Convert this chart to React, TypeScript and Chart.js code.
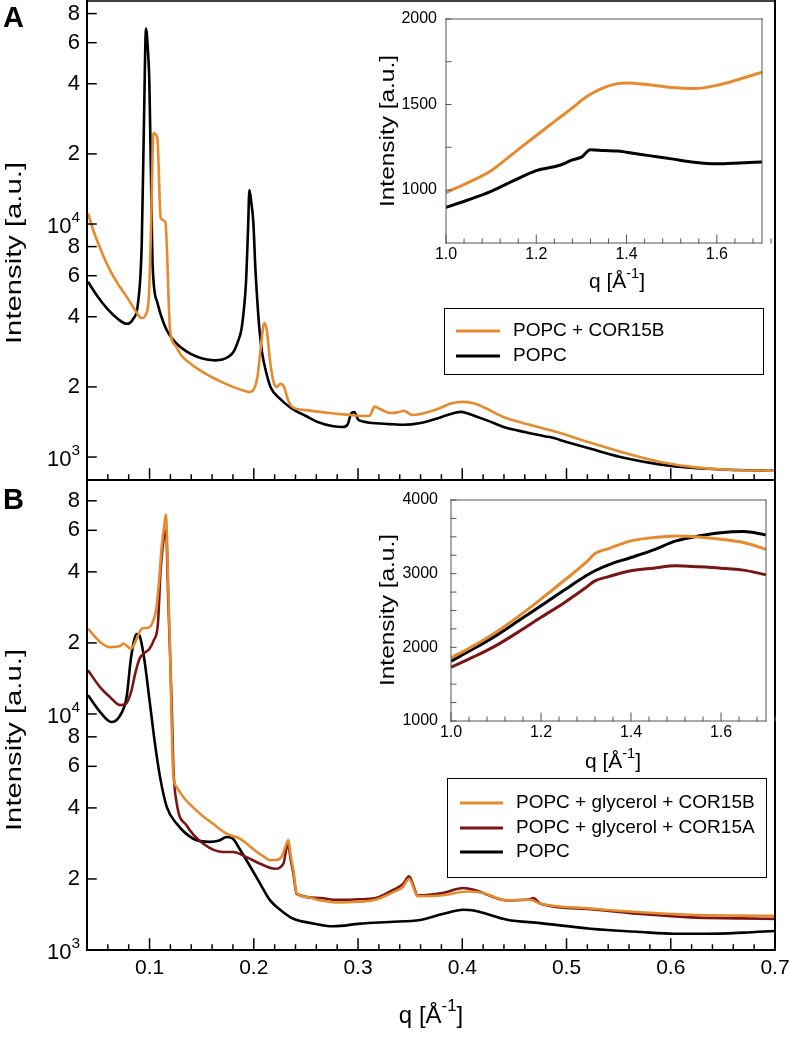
import React, { useEffect, useRef } from 'react';
import { Chart, registerables } from 'chart.js';

Chart.register(...registerables);

const W = 789;
const H = 1038;
const FONT = "'Liberation Sans', Arial, Helvetica, sans-serif";
const ORANGE = '#E68A2E';
const MAROON = '#7A1515';
const BLACK = '#000000';

// ---------- Panel A (main, log scale) ----------
const qA_cor15b = [0.041, 0.046, 0.054, 0.062, 0.07, 0.078, 0.085, 0.0925, 0.097, 0.0995, 0.1015, 0.1037, 0.1075, 0.1107, 0.1152, 0.1197, 0.125, 0.13, 0.14, 0.15, 0.16, 0.17, 0.18, 0.19, 0.196, 0.2, 0.2035, 0.2065, 0.21, 0.2125, 0.2155, 0.219, 0.222, 0.2255, 0.229, 0.233, 0.237, 0.25, 0.27, 0.29, 0.305, 0.311, 0.316, 0.322, 0.331, 0.338, 0.344, 0.352, 0.36, 0.375, 0.39, 0.4, 0.41, 0.42, 0.439, 0.458, 0.484, 0.524, 0.556, 0.589, 0.622, 0.655, 0.7];
const iA_cor15b = [11100, 9400, 7600, 6340, 5500, 4880, 4350, 3950, 4150, 5000, 10000, 24500, 23400, 10600, 10200, 3500, 3000, 2750, 2500, 2330, 2200, 2090, 2000, 1930, 1900, 1950, 2200, 2900, 3760, 3500, 2600, 2100, 2000, 2060, 2000, 1750, 1640, 1590, 1550, 1520, 1500, 1505, 1645, 1600, 1545, 1555, 1580, 1515, 1530, 1600, 1700, 1725, 1705, 1640, 1490, 1400, 1305, 1150, 1040, 955, 905, 882, 873];

const qA_popc = [0.041, 0.05, 0.06, 0.07, 0.078, 0.084, 0.089, 0.0925, 0.0945, 0.0966, 0.0985, 0.0998, 0.1015, 0.103, 0.1075, 0.1165, 0.125, 0.135, 0.145, 0.155, 0.163, 0.17, 0.176, 0.181, 0.185, 0.188, 0.1905, 0.1925, 0.1945, 0.1958, 0.1975, 0.1996, 0.2015, 0.2035, 0.2055, 0.208, 0.212, 0.216, 0.225, 0.236, 0.25, 0.262, 0.275, 0.285, 0.29, 0.2935, 0.2965, 0.3, 0.305, 0.311, 0.33, 0.344, 0.36, 0.375, 0.385, 0.393, 0.399, 0.405, 0.412, 0.425, 0.439, 0.46, 0.48, 0.485, 0.5, 0.524, 0.556, 0.589, 0.622, 0.655, 0.7];
const iA_popc = [5650, 4900, 4300, 3900, 3730, 3900, 4600, 8200, 25000, 69000, 55000, 41000, 15000, 6600, 4600, 3500, 3100, 2850, 2700, 2620, 2600, 2620, 2700, 2850, 3150, 3500, 4300, 5600, 9500, 14000, 12500, 10100, 6500, 4600, 3500, 2800, 2300, 2000, 1780, 1620, 1500, 1410, 1360, 1345, 1380, 1540, 1560, 1450, 1420, 1404, 1385, 1375, 1400, 1460, 1510, 1549, 1563, 1540, 1500, 1430, 1350, 1280, 1225, 1215, 1160, 1082, 990, 930, 897, 882, 873];

// ---------- Panel B (main, log scale) ----------
const qB_cor15b = [0.041, 0.0525, 0.062, 0.0717, 0.0748, 0.079, 0.082, 0.087, 0.0925, 0.0988, 0.103, 0.1065, 0.109, 0.1115, 0.1145, 0.1158, 0.117, 0.1185, 0.1197, 0.121, 0.1228, 0.126, 0.1325, 0.1485, 0.16, 0.174, 0.187, 0.195, 0.203, 0.21, 0.2157, 0.2225, 0.227, 0.2305, 0.2332, 0.2355, 0.238, 0.241, 0.25, 0.2636, 0.279, 0.3, 0.317, 0.334, 0.343, 0.349, 0.353, 0.357, 0.381, 0.4044, 0.42, 0.443, 0.465, 0.475, 0.523, 0.571, 0.619, 0.667, 0.7];
const iB_cor15b = [22970, 20200, 19200, 19400, 19860, 19300, 18900, 20500, 22970, 23200, 24500, 28000, 36000, 50000, 65000, 70000, 50000, 28000, 19000, 10000, 5500, 4900, 4440, 3780, 3450, 3110, 2960, 2780, 2600, 2480, 2400, 2410, 2500, 2750, 2920, 2500, 2177, 1750, 1680, 1623, 1590, 1600, 1633, 1760, 1850, 2005, 1850, 1690, 1705, 1770, 1745, 1623, 1633, 1571, 1500, 1445, 1410, 1398, 1395];

const qB_cor15a = [0.041, 0.0525, 0.062, 0.0717, 0.077, 0.0823, 0.0865, 0.0903, 0.095, 0.1, 0.104, 0.108, 0.1105, 0.1135, 0.1158, 0.118, 0.1214, 0.1228, 0.126, 0.1356, 0.1516, 0.1708, 0.18, 0.193, 0.206, 0.2204, 0.2284, 0.2326, 0.2355, 0.238, 0.241, 0.2636, 0.279, 0.3, 0.317, 0.334, 0.343, 0.349, 0.353, 0.357, 0.381, 0.401, 0.411, 0.443, 0.465, 0.468, 0.475, 0.523, 0.571, 0.619, 0.667, 0.7];
const iB_cor15a = [15300, 13000, 11800, 10900, 11000, 12400, 15000, 17100, 18100, 18900, 20500, 24000, 40000, 55000, 60000, 30000, 10400, 6000, 4200, 3370, 2820, 2600, 2600, 2475, 2320, 2210, 2320, 2820, 2400, 2105, 1731, 1660, 1630, 1640, 1660, 1800, 1900, 2050, 1880, 1700, 1742, 1830, 1800, 1623, 1640, 1660, 1571, 1490, 1420, 1375, 1362, 1355];

const qB_popc = [0.041, 0.0525, 0.0633, 0.0717, 0.078, 0.0823, 0.0877, 0.0903, 0.095, 0.1, 0.105, 0.1101, 0.1165, 0.126, 0.142, 0.158, 0.166, 0.174, 0.18, 0.186, 0.193, 0.205, 0.2157, 0.227, 0.238, 0.255, 0.2764, 0.302, 0.33, 0.3596, 0.382, 0.401, 0.411, 0.443, 0.475, 0.523, 0.571, 0.603, 0.635, 0.67, 0.7];
const iB_popc = [12000, 10200, 9250, 9850, 11800, 17400, 21800, 21500, 17000, 11400, 7600, 5400, 4040, 3430, 2960, 2870, 2900, 3010, 2960, 2700, 2400, 1950, 1623, 1460, 1357, 1300, 1260, 1293, 1315, 1340, 1425, 1480, 1470, 1344, 1300, 1231, 1192, 1172, 1172, 1185, 1204];

// ---------- Inset A (linear) ----------
const qInA = [1.0, 1.05, 1.1, 1.15, 1.2, 1.25, 1.28, 1.3, 1.32, 1.35, 1.38, 1.4, 1.45, 1.5, 1.55, 1.6, 1.65, 1.7];
const inA_cor15b = [985, 1045, 1113, 1216, 1319, 1420, 1480, 1524, 1560, 1599, 1622, 1626, 1615, 1599, 1593, 1612, 1648, 1689];
const inA_popc = [898, 943, 992, 1055, 1113, 1143, 1176, 1192, 1235, 1231, 1228, 1221, 1201, 1182, 1162, 1153, 1158, 1164];

// ---------- Inset B (linear) ----------
const qInB = [1.0, 1.05, 1.1, 1.15, 1.2, 1.25, 1.3, 1.32, 1.35, 1.4, 1.45, 1.5, 1.55, 1.6, 1.65, 1.7];
const inB_cor15b = [1857, 2020, 2204, 2420, 2655, 2900, 3152, 3273, 3340, 3445, 3490, 3512, 3499, 3467, 3422, 3332];
const inB_cor15a = [1731, 1870, 2024, 2210, 2407, 2600, 2813, 2903, 2960, 3039, 3075, 3106, 3093, 3075, 3048, 2985];
const inB_popc = [1812, 1980, 2159, 2360, 2565, 2770, 2971, 3040, 3120, 3219, 3323, 3445, 3512, 3557, 3571, 3526];

// ---------- Ticks ----------
const mainXTicks = [0.1, 0.2, 0.3, 0.4, 0.5, 0.6, 0.7];
const mainXTickLabels = ['0.1', '0.2', '0.3', '0.4', '0.5', '0.6', '0.7'];
const mainYTicks = [1000, 2000, 4000, 6000, 8000, 10000, 20000, 40000, 60000, 80000];
const mainYTickLabels = ['10^{3}', '2', '4', '6', '8', '10^{4}', '2', '4', '6', '8'];
const insetXTicks = [1.0, 1.2, 1.4, 1.6];
const insetXTickLabels = ['1.0', '1.2', '1.4', '1.6'];
const insetAYTicks = [1000, 1500, 2000];
const insetAYTickLabels = ['1000', '1500', '2000'];
const insetBYTicks = [1000, 2000, 3000, 4000];
const insetBYTickLabels = ['1000', '2000', '3000', '4000'];

const labelsA = ['POPC + COR15B', 'POPC'];
const labelsB = ['POPC + glycerol + COR15B', 'POPC + glycerol + COR15A', 'POPC'];

const zip = (xs: number[], ys: number[]) => xs.map((x, i) => ({ x, y: ys[i] }));

function steps(from: number, to: number, step: number, skip: number[]) {
  const out: number[] = [];
  const n = Math.round((to - from) / step);
  for (let i = 0; i <= n; i++) {
    const v = Math.round((from + i * step) * 10000) / 10000;
    if (!skip.some((s) => Math.abs(s - v) < 1e-6)) out.push(v);
  }
  return out;
}

function parseRich(s: string) {
  const parts: { t: string; sup: boolean }[] = [];
  const re = /\^\{([^}]*)\}/g;
  let last = 0;
  let m: RegExpExecArray | null;
  while ((m = re.exec(s))) {
    if (m.index > last) parts.push({ t: s.slice(last, m.index), sup: false });
    parts.push({ t: m[1], sup: true });
    last = m.index + m[0].length;
  }
  if (last < s.length) parts.push({ t: s.slice(last), sup: false });
  return parts;
}

function drawRich(ctx: CanvasRenderingContext2D, s: string, x: number, y: number, size: number, align: 'left' | 'center' | 'right', opt: any = {}) {
  const { bold = false, rotate = false, length } = opt;
  const parts = parseRich(s);
  const supSize = size * 0.7;
  const font = (sup: boolean) => `${bold ? 'bold ' : ''}${sup ? supSize : size}px ${FONT}`;
  let total = 0;
  const ws = parts.map((p) => {
    ctx.font = font(p.sup);
    const w = ctx.measureText(p.t).width;
    total += w;
    return w;
  });
  ctx.save();
  ctx.translate(x, y);
  if (rotate) ctx.rotate(-Math.PI / 2);
  if (length) ctx.scale(length / total, 1);
  let cx = align === 'left' ? 0 : align === 'center' ? -total / 2 : -total;
  ctx.fillStyle = '#000';
  ctx.textBaseline = 'middle';
  ctx.textAlign = 'left';
  parts.forEach((p, i) => {
    ctx.font = font(p.sup);
    ctx.fillText(p.t, cx, p.sup ? -size * 0.4 : 0);
    cx += ws[i];
  });
  ctx.restore();
}

function makeDeco(spec: any) {
  return {
    id: 'deco',
    afterDatasetsDraw(chart: any) {
      const { ctx, chartArea: a } = chart;
      const xs = chart.scales.x;
      const ys = chart.scales.y;
      ctx.save();
      const line = (x1: number, y1: number, x2: number, y2: number, w: number, color: string) => {
        ctx.strokeStyle = color;
        ctx.lineWidth = w;
        ctx.lineCap = 'square';
        ctx.beginPath();
        ctx.moveTo(x1, y1);
        ctx.lineTo(x2, y2);
        ctx.stroke();
      };
      const f = spec.frame;
      if (f.left) line(a.left, a.top, a.left, a.bottom, f.left, f.color);
      if (f.right) line(a.right, a.top, a.right, a.bottom, f.right, f.color);
      if (f.top) line(a.left, a.top, a.right, a.top, f.top, f.color);
      if (f.bottom) line(a.left, a.bottom, a.right, a.bottom, f.bottom, f.color);

      const xt = spec.xTicks;
      if (xt) {
        ctx.lineCap = 'butt';
        xt.minor.forEach((v: number) => {
          const px = xs.getPixelForValue(v);
          line(px, a.bottom, px, a.bottom - xt.minorLen, xt.width, f.color);
        });
        xt.values.forEach((v: number, i: number) => {
          const px = xs.getPixelForValue(v);
          line(px, a.bottom, px, a.bottom - xt.majorLen, xt.width, f.color);
          if (xt.labels) drawRich(ctx, xt.labels[i], px, xt.labelY, xt.font, 'center');
        });
      }
      const yt = spec.yTicks;
      if (yt) {
        (yt.minor || []).forEach((v: number) => {
          const py = ys.getPixelForValue(v);
          line(a.left, py, a.left + yt.minorLen, py, yt.width, f.color);
        });
        yt.values.forEach((v: number, i: number) => {
          const py = ys.getPixelForValue(v);
          line(a.left, py, a.left + yt.len, py, yt.width, f.color);
          const lab = yt.labels[i];
          drawRich(ctx, lab, yt.labelX, py + (lab.indexOf('^') >= 0 ? 3 : 0), yt.font, 'right');
        });
      }
      (spec.texts || []).forEach((t: any) => drawRich(ctx, t.s, t.x, t.y, t.size, t.align, t));

      const lg = spec.legend;
      if (lg) {
        const [x1, y1, x2, y2] = lg.box;
        ctx.fillStyle = '#fff';
        ctx.fillRect(x1, y1, x2 - x1, y2 - y1);
        ctx.strokeStyle = '#000';
        ctx.lineWidth = 1;
        ctx.strokeRect(x1 + 0.5, y1 + 0.5, x2 - x1, y2 - y1);
        chart.data.datasets.forEach((ds: any, i: number) => {
          const yy = lg.rows[i];
          ctx.strokeStyle = ds.borderColor;
          ctx.lineWidth = 3;
          ctx.lineCap = 'butt';
          ctx.beginPath();
          ctx.moveTo(lg.sample[0], yy);
          ctx.lineTo(lg.sample[1], yy);
          ctx.stroke();
          drawRich(ctx, ds.label, lg.textX, yy, lg.size, 'left');
        });
      }
      ctx.restore();
    },
  };
}

function lineDs(label: string, data: any[], color: string, width: number) {
  return {
    label,
    data,
    borderColor: color,
    backgroundColor: color,
    borderWidth: width,
    pointRadius: 0,
    fill: false,
    cubicInterpolationMode: 'monotone',
    borderJoinStyle: 'round',
  };
}

function baseOptions(area: { l: number; t: number; r: number; b: number }, x: any, y: any) {
  return {
    animation: false,
    responsive: false,
    devicePixelRatio: 1,
    events: [],
    layout: { padding: { left: area.l, top: area.t, right: W - area.r, bottom: H - area.b } },
    scales: {
      x: { type: 'linear', display: false, ...x },
      y: { display: false, ...y },
    },
    plugins: { legend: { display: false }, tooltip: { enabled: false } },
  };
}

const mainXMinor = steps(0.04, 0.7, 0.02, mainXTicks);
const insetXMinor = steps(1.0, 1.7, 0.04, insetXTicks);
const insetAYMinor = [1250, 1750];
const insetBYMinor = steps(1000, 4000, 250, insetBYTicks);

function configMainA() {
  return {
    type: 'line',
    data: {
      datasets: [
        lineDs(labelsA[0], zip(qA_cor15b, iA_cor15b), ORANGE, 2.6),
        lineDs(labelsA[1], zip(qA_popc, iA_popc), BLACK, 2.6),
      ],
    },
    options: baseOptions({ l: 87, t: 1, r: 775, b: 480 }, { min: 0.04, max: 0.7 }, { type: 'logarithmic', min: 797, max: 90600 }),
    plugins: [
      makeDeco({
        frame: { left: 2, right: 2, top: 1.5, bottom: 2, color: '#000' },
        xTicks: { values: mainXTicks, minor: mainXMinor, majorLen: 11, minorLen: 5, width: 1.5 },
        yTicks: { values: mainYTicks, labels: mainYTickLabels, len: 9, width: 1.5, labelX: 80, font: 22 },
        texts: [
          { s: 'A', x: 3, y: 19, size: 29, align: 'left', bold: true },
          { s: 'Intensity [a.u.]', x: 15, y: 253, size: 22, align: 'center', rotate: true, length: 182 },
        ],
        legend: { box: [444, 308, 763, 374], rows: [331, 356], sample: [456, 500], textX: 513, size: 19 },
      }),
    ],
  };
}

function configMainB() {
  return {
    type: 'line',
    data: {
      datasets: [
        lineDs(labelsB[0], zip(qB_cor15b, iB_cor15b), ORANGE, 2.6),
        lineDs(labelsB[1], zip(qB_cor15a, iB_cor15a), MAROON, 2.6),
        lineDs(labelsB[2], zip(qB_popc, iB_popc), BLACK, 2.6),
      ],
    },
    options: baseOptions({ l: 87, t: 480, r: 775, b: 950 }, { min: 0.04, max: 0.7 }, { type: 'logarithmic', min: 1000, max: 98000 }),
    plugins: [
      makeDeco({
        frame: { left: 2, right: 2, bottom: 2, color: '#000' },
        xTicks: { values: mainXTicks, labels: mainXTickLabels, minor: mainXMinor, majorLen: 11, minorLen: 5, width: 1.5, labelY: 968, font: 21 },
        yTicks: { values: mainYTicks, labels: mainYTickLabels, len: 9, width: 1.5, labelX: 80, font: 22 },
        texts: [
          { s: 'B', x: 3, y: 501, size: 29, align: 'left', bold: true },
          { s: 'Intensity [a.u.]', x: 15, y: 740, size: 22, align: 'center', rotate: true, length: 182 },
          { s: 'q [Å^{-1}]', x: 431, y: 1016, size: 24, align: 'center' },
        ],
        legend: { box: [447, 778, 766, 877], rows: [803, 828, 852], sample: [460, 503], textX: 516, size: 19 },
      }),
    ],
  };
}

function configInsetA() {
  return {
    type: 'line',
    data: {
      datasets: [
        lineDs(labelsA[0], zip(qInA, inA_cor15b), ORANGE, 3),
        lineDs(labelsA[1], zip(qInA, inA_popc), BLACK, 3),
      ],
    },
    options: baseOptions({ l: 446, t: 19, r: 762, b: 243 }, { min: 1.0, max: 1.7 }, { type: 'linear', min: 690, max: 2000 }),
    plugins: [
      makeDeco({
        frame: { left: 1, right: 1, top: 1, bottom: 1, color: '#555' },
        xTicks: { values: insetXTicks, labels: insetXTickLabels, minor: insetXMinor, majorLen: 8, minorLen: 4, width: 1, labelY: 255, font: 16 },
        yTicks: { values: insetAYTicks, labels: insetAYTickLabels, minor: insetAYMinor, len: 5, minorLen: 5, width: 1, labelX: 437, font: 16 },
        texts: [
          { s: 'Intensity [a.u.]', x: 388, y: 131, size: 20, align: 'center', rotate: true, length: 152 },
          { s: 'q [Å^{-1}]', x: 617, y: 282, size: 21, align: 'center' },
        ],
      }),
    ],
  };
}

function configInsetB() {
  return {
    type: 'line',
    data: {
      datasets: [
        lineDs(labelsB[0], zip(qInB, inB_cor15b), ORANGE, 3),
        lineDs(labelsB[1], zip(qInB, inB_cor15a), MAROON, 3),
        lineDs(labelsB[2], zip(qInB, inB_popc), BLACK, 3),
      ],
    },
    options: baseOptions({ l: 451, t: 500, r: 766, b: 721 }, { min: 1.0, max: 1.7 }, { type: 'linear', min: 1000, max: 4000 }),
    plugins: [
      makeDeco({
        frame: { left: 1, right: 1, top: 1, bottom: 1, color: '#555' },
        xTicks: { values: insetXTicks, labels: insetXTickLabels, minor: insetXMinor, majorLen: 8, minorLen: 4, width: 1, labelY: 733, font: 16 },
        yTicks: { values: insetBYTicks, labels: insetBYTickLabels, minor: insetBYMinor, len: 5, minorLen: 5, width: 1, labelX: 438, font: 16 },
        texts: [
          { s: 'Intensity [a.u.]', x: 388, y: 610, size: 20, align: 'center', rotate: true, length: 152 },
          { s: 'q [Å^{-1}]', x: 613, y: 762, size: 21, align: 'center' },
        ],
      }),
    ],
  };
}

function ChartCanvas({ make }: { make: () => any }) {
  const ref = useRef<HTMLCanvasElement>(null);
  useEffect(() => {
    const chart = new Chart(ref.current as HTMLCanvasElement, make() as any);
    return () => chart.destroy();
  }, []);
  return (
    <canvas
      ref={ref}
      width={W}
      height={H}
      style={{ position: 'absolute', left: 0, top: 0, width: W, height: H }}
    />
  );
}

export default function App() {
  return (
    <div style={{ position: 'absolute', left: 0, top: 0, width: W, height: H, background: '#fff', overflow: 'hidden' }}>
      <ChartCanvas make={configMainA} />
      <ChartCanvas make={configMainB} />
      <ChartCanvas make={configInsetA} />
      <ChartCanvas make={configInsetB} />
    </div>
  );
}
